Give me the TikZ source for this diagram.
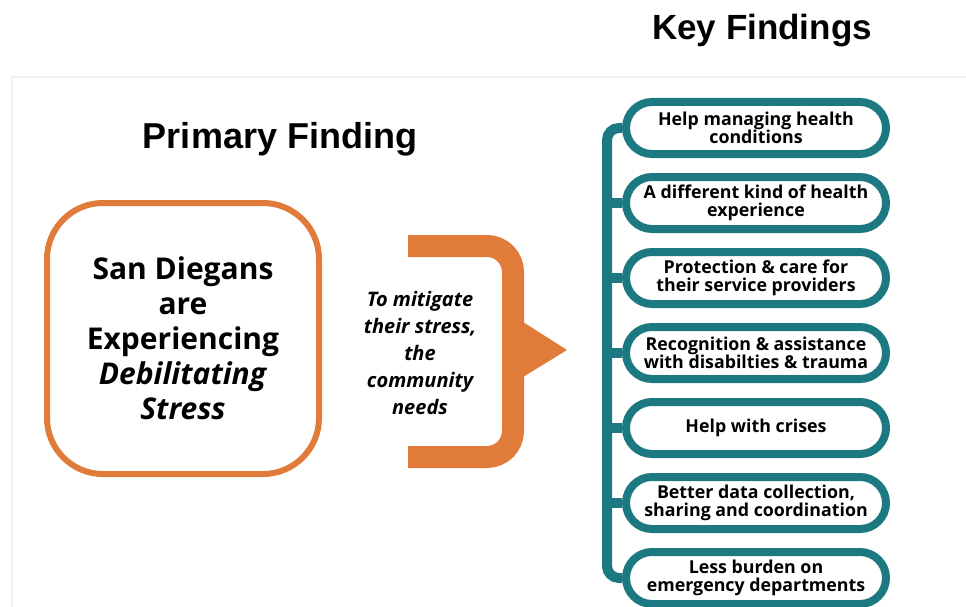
\documentclass[tikz,border=0pt]{standalone}
\usepackage{fontspec}
\setmainfont{Open Sans}
\newfontfamily\titlefont{Liberation Sans}
\definecolor{arancio}{RGB}{224,123,57}
\definecolor{ottanio}{RGB}{28,121,129}
\definecolor{cornice}{RGB}{242,242,242}
\tikzstyle{findings}=[
    x=1pt, y=-1pt,
    title/.style={font={\titlefont\bfseries\fontsize{35}{40}\selectfont},anchor=base},
    stress box/.style={draw=arancio, line width=6, rounded corners=56,
        minimum width=272, minimum height=271, align=center,
        font={\bfseries\fontsize{30}{35}\selectfont}},
    bracket/.style={draw=arancio, line width=22, rounded corners=26},
    needs text/.style={align=center, font={\bfseries\itshape\fontsize{20}{26.8}\selectfont}},
    pill/.style={draw=ottanio, line width=8, rounded corners=26, fill=white,
        minimum width=260, minimum height=52, align=center, inner sep=0pt,
        font={\bfseries\fontsize{17.8}{18.5}\selectfont}},
    spine/.style={draw=ottanio, line width=10, rounded corners=12},
]

\begin{document}
\begin{tikzpicture}[findings]
    \useasboundingbox (0,0) rectangle (966,607);
    % faint panel behind the content
    \draw[cornice, line width=1.2] (12,607) -- (12,77) -- (966,77);

    \node[title] (key) at (762,40) {Key Findings};
    \node[title, font={\titlefont\bfseries\fontsize{36}{40}\selectfont}] (primary) at (280,148) {Primary Finding};

    \node[stress box] (stress) at (183,338.5)
        {San Diegans\\ are\\ Experiencing\\ \textit{Debilitating}\\ \textit{Stress}};

    % orange bracket with its pointer
    \draw[bracket] (408,246) -- (513,246) -- (513,457) -- (408,457);
    \fill[arancio] (523,322) -- (567,350) -- (523,377) -- cycle;
    \node[needs text] (needs) at (420,353)
        {To mitigate\\ their stress,\\ the\\ community\\ needs};

    % key findings
    \foreach \i/\t in {1/{Help managing health\\ conditions},
                       2/{A different kind of health\\ experience},
                       3/{Protection \& care for\\ their service providers},
                       4/{Recognition \& assistance\\ with disabilties \& trauma},
                       5/{Help with crises},
                       6/{Better data collection,\\ sharing and coordination},
                       7/{Less burden on\\ emergency departments}}
    {
        \node[pill] (f\i) at (756,53+75*\i) {\t};
    }
    \coordinate (sp) at (607,0);
    \draw[spine] (f1.west) -| (sp |- f7.west) -- (f7.west);
    \foreach \i in {2,...,6}
        \draw[spine] (sp |- f\i.west) -- (f\i.west);
\end{tikzpicture}
\end{document}
